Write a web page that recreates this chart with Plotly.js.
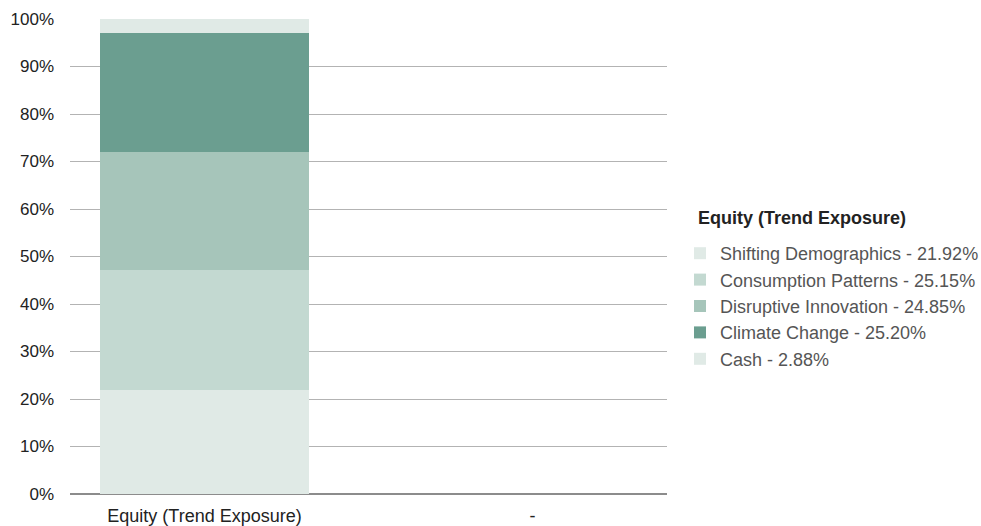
<!DOCTYPE html>
<html>
<head>
<meta charset="utf-8">
<script src="https://cdn.plot.ly/plotly-3.0.1.min.js"></script>
<style>html,body{margin:0;padding:0;background:#fff;}#chart{width:981px;height:526px;}</style>
</head>
<body>
<div id="chart"></div>
<script>
var categories = ["Equity (Trend Exposure)", "-"];
var seriesNames = ["Shifting Demographics", "Consumption Patterns", "Disruptive Innovation", "Climate Change", "Cash"];
var shiftingDemographics = [21.92, null];
var consumptionPatterns = [25.15, null];
var disruptiveInnovation = [24.85, null];
var climateChange = [25.20, null];
var cash = [2.88, null];
var yTickValues = [0, 10, 20, 30, 40, 50, 60, 70, 80, 90, 100];
var yTickLabels = ["0%", "10%", "20%", "30%", "40%", "50%", "60%", "70%", "80%", "90%", "100%"];
var legendTitle = "Equity (Trend Exposure)";

var colors = ["#e0eae6", "#c3d9d1", "#a6c5ba", "#6b9e90", "#e0eae6"];
var seriesValues = [shiftingDemographics, consumptionPatterns, disruptiveInnovation, climateChange, cash];

var traces = seriesNames.map(function (name, i) {
  return {
    type: "bar",
    x: categories,
    y: seriesValues[i],
    name: name + " - " + seriesValues[i][0].toFixed(2) + "%",
    marker: { color: colors[i], line: { width: 0 } },
    hoverinfo: "none"
  };
});

var layout = {
  width: 981,
  height: 526,
  margin: { l: 70, r: 314, t: 19, b: 32, pad: 0, autoexpand: false },
  paper_bgcolor: "#ffffff",
  plot_bgcolor: "#ffffff",
  font: { family: "Liberation Sans, Arial, sans-serif", size: 17, color: "#222222" },
  barmode: "stack",
  bargap: 0.36,
  showlegend: true,
  xaxis: {
    type: "category",
    range: [-0.41, 1.41],
    showgrid: false,
    showline: false,
    zeroline: false,
    ticks: "",
    ticklabelstandoff: 9,
    tickfont: { size: 18, color: "#222222" },
    fixedrange: true
  },
  yaxis: {
    range: [0, 100],
    tickvals: yTickValues,
    ticktext: yTickLabels,
    showgrid: true,
    gridcolor: "#b3b3b3",
    gridwidth: 1,
    zeroline: true,
    zerolinecolor: "#8c8c8c",
    zerolinewidth: 2,
    showline: false,
    ticks: "",
    ticklabelstandoff: 15,
    tickfont: { size: 17, color: "#222222" },
    fixedrange: true
  },
  legend: {
    x: (680 - 70) / 597,
    xanchor: "left",
    y: (494 - 235) / 475,
    yanchor: "top",
    traceorder: "normal",
    bgcolor: "rgba(0,0,0,0)",
    font: { size: 18, color: "#555555" },
    itemwidth: 30
  },
  annotations: [{
    xref: "paper",
    yref: "paper",
    x: (696 - 70) / 597,
    y: (494 - 218) / 475,
    xanchor: "left",
    yanchor: "middle",
    showarrow: false,
    text: "<b>" + legendTitle + "</b>",
    font: { size: 18, color: "#222222" }
  }]
};

Plotly.newPlot("chart", traces, layout, { displayModeBar: false, staticPlot: true });
</script>
</body>
</html>
